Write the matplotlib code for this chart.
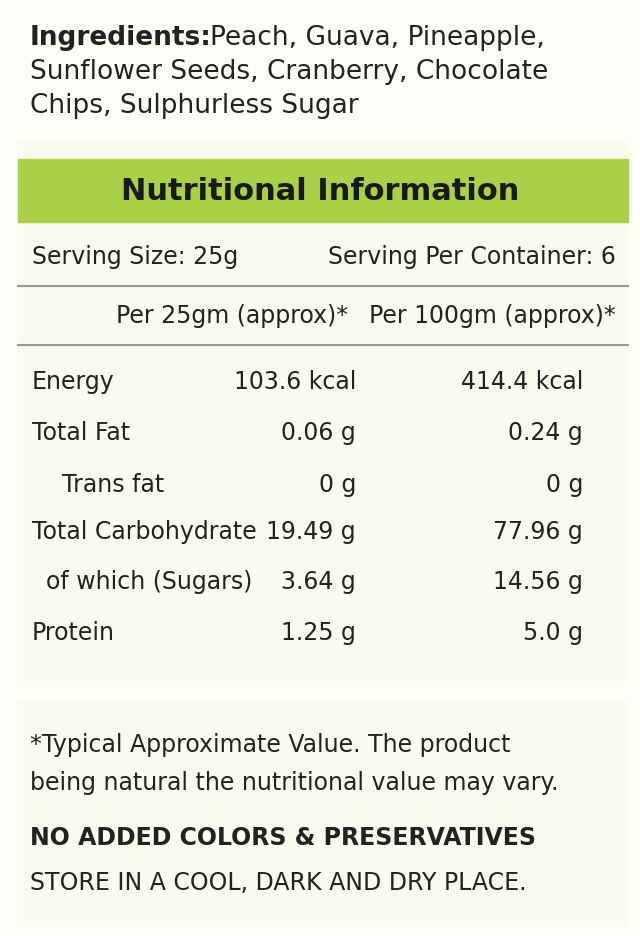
import matplotlib.pyplot as plt
from matplotlib.patches import Rectangle
from matplotlib import font_manager

# pick a narrow font if available
names = set(f.name for f in font_manager.fontManager.ttflist)
fam = 'Liberation Sans Narrow' if 'Liberation Sans Narrow' in names else 'DejaVu Sans'
plt.rcParams['font.family'] = [fam, 'DejaVu Sans']

ingredients = ["Peach, Guava, Pineapple,", "Sunflower Seeds, Cranberry, Chocolate", "Chips, Sulphurless Sugar"]
nutrients = ["Energy", "Total Fat", "Trans fat", "Total Carbohydrate", "of which (Sugars)", "Protein"]
indent = [0, 0, 30, 0, 14, 0]
per25 = ["103.6 kcal", "0.06 g", "0 g", "19.49 g", "3.64 g", "1.25 g"]
per100 = ["414.4 kcal", "0.24 g", "0 g", "77.96 g", "14.56 g", "5.0 g"]

fig = plt.figure(figsize=(6.4, 9.36), dpi=100, facecolor='#fdfdf7')
ax = fig.add_axes([0, 0, 1, 1])
ax.set_xlim(0, 640)
ax.set_ylim(936, 0)
ax.axis('off')

txt = '#222222'
fs = 17

# panels
ax.add_patch(Rectangle((18, 140), 610, 540, color='#fbfaee', zorder=0))
ax.add_patch(Rectangle((18, 700), 610, 226, color='#fbfaee', zorder=0))

# ingredients
ax.text(30, 38, "Ingredients:", fontsize=19, fontweight='bold', color=txt, va='center')
ax.text(210, 38, ingredients[0], fontsize=19, color=txt, va='center')
ax.text(30, 72, ingredients[1], fontsize=19, color=txt, va='center')
ax.text(30, 106, ingredients[2], fontsize=19, color=txt, va='center')

# header
ax.add_patch(Rectangle((18, 159), 610, 63, color='#a9d046', zorder=1))
ax.text(320, 191, "Nutritional Information", fontsize=22, fontweight='bold',
        color='#1a1a1a', ha='center', va='center', zorder=2)

ax.text(32, 257, "Serving Size: 25g", fontsize=fs, color=txt, va='center')
ax.text(616, 257, "Serving Per Container: 6", fontsize=fs, color=txt, va='center', ha='right')
ax.plot([18, 628], [286, 286], color='#999999', lw=1.5)
ax.text(348, 316, "Per 25gm (approx)*", fontsize=fs, color=txt, va='center', ha='right')
ax.text(616, 316, "Per 100gm (approx)*", fontsize=fs, color=txt, va='center', ha='right')
ax.plot([18, 628], [345, 345], color='#999999', lw=1.5)

rows_y = [382, 433, 485, 532, 582, 633]
for y, n, ind, a, b in zip(rows_y, nutrients, indent, per25, per100):
    ax.text(32 + ind, y, n, fontsize=fs, color=txt, va='center')
    ax.text(356, y, a, fontsize=fs, color=txt, va='center', ha='right')
    ax.text(583, y, b, fontsize=fs, color=txt, va='center', ha='right')

# footer
ax.text(30, 745, "*Typical Approximate Value. The product", fontsize=fs, color=txt, va='center')
ax.text(30, 783, "being natural the nutritional value may vary.", fontsize=fs, color=txt, va='center')
ax.text(30, 838, "NO ADDED COLORS & PRESERVATIVES", fontsize=fs, fontweight='bold', color=txt, va='center')
ax.text(30, 883, "STORE IN A COOL, DARK AND DRY PLACE.", fontsize=fs, color=txt, va='center')

fig.savefig('out.png', dpi=100, facecolor=fig.get_facecolor())
